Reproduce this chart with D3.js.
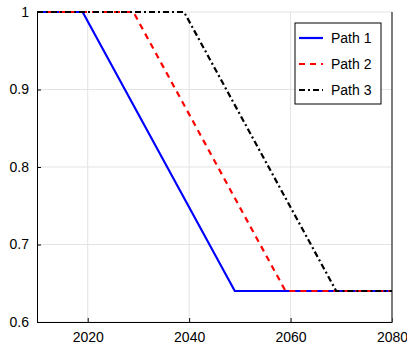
<!DOCTYPE html>
<style>
body { margin: 0; background: #fff; }
text { font-family: "Liberation Sans", Arial, sans-serif; }
</style>
<body>
<script src="https://cdn.jsdelivr.net/npm/d3@7"></script>
<script>

var years1 = [2010, 2019, 2049, 2080],
    vals1 = [1, 1, 0.64, 0.64];
var years2 = [2010, 2029, 2059, 2080],
    vals2 = [1, 1, 0.64, 0.64];
var years3 = [2010, 2039, 2069, 2080],
    vals3 = [1, 1, 0.64, 0.64];
var names = ["Path 1", "Path 2", "Path 3"];
var xTicks = [2020, 2040, 2060, 2080],
    yTicks = [0.6, 0.7, 0.8, 0.9, 1];

var width = 407,
    height = 350,
    margin = {top: 12, right: 15, bottom: 28, left: 37};

var svg = d3.select("body").append("svg")
    .attr("width", width)
    .attr("height", height);

var x = d3.scaleLinear().domain([2010, 2080]).range([margin.left, width - margin.right]);
var y = d3.scaleLinear().domain([0.6, 1]).range([height - margin.bottom, margin.top]);

// grid
svg.append("g").selectAll("line")
    .data(xTicks)
  .enter().append("line")
    .attr("x1", d => x(d)).attr("x2", d => x(d))
    .attr("y1", y(0.6)).attr("y2", y(1))
    .attr("stroke", "#e3e3e3");
svg.append("g").selectAll("line")
    .data(yTicks)
  .enter().append("line")
    .attr("x1", x(2010)).attr("x2", x(2080))
    .attr("y1", d => y(d)).attr("y2", d => y(d))
    .attr("stroke", "#e3e3e3");

// axes
svg.append("g")
    .attr("transform", "translate(0," + y(0.6) + ")")
    .call(d3.axisBottom(x).tickValues(xTicks).tickFormat(d3.format("d")).tickSizeInner(-4).tickSizeOuter(0).tickPadding(10))
    .call(g => g.selectAll("text").attr("font-size", 14).attr("fill", "#000").style("font-family", "Liberation Sans"))
    .call(g => g.selectAll("line, path").attr("stroke", "#000"));

svg.append("g")
    .attr("transform", "translate(" + x(2010) + ",0)")
    .call(d3.axisLeft(y).tickValues(yTicks).tickFormat(d => d === 1 ? "1" : d3.format(".1f")(d)).tickSizeInner(-4).tickSizeOuter(0).tickPadding(8))
    .call(g => g.selectAll("text").attr("font-size", 14).attr("fill", "#000").style("font-family", "Liberation Sans"))
    .call(g => g.selectAll("line, path").attr("stroke", "#000"));

// right edge of box
svg.append("line")
    .attr("x1", x(2080)).attr("x2", x(2080))
    .attr("y1", y(0.6)).attr("y2", y(1))
    .attr("stroke", "#555").attr("stroke-width", 1.5);

var series = [
  {name: names[0], xs: years1, ys: vals1, color: "#0000ff", dash: null},
  {name: names[1], xs: years2, ys: vals2, color: "#ff0000", dash: "6,5"},
  {name: names[2], xs: years3, ys: vals3, color: "#000000", dash: "6,3,2,3"}
];

var line = d3.line().x(d => x(d[0])).y(d => y(d[1]));

svg.append("g").selectAll("path")
    .data(series)
  .enter().append("path")
    .attr("d", s => line(d3.zip(s.xs, s.ys)))
    .attr("fill", "none")
    .attr("stroke", s => s.color)
    .attr("stroke-width", 2.2)
    .attr("stroke-dasharray", s => s.dash);

// legend
var legend = svg.append("g").attr("transform", "translate(295,23)");
legend.append("rect")
    .attr("width", 86).attr("height", 81)
    .attr("fill", "#fff").attr("stroke", "#000");

var item = legend.selectAll("g.item")
    .data(series)
  .enter().append("g")
    .attr("class", "item")
    .attr("transform", (d, i) => "translate(0," + (15 + i * 26) + ")");
item.append("line")
    .attr("x1", 4).attr("x2", 28)
    .attr("stroke", d => d.color)
    .attr("stroke-width", 2.2)
    .attr("stroke-dasharray", d => d.dash);
item.append("text")
    .attr("x", 36).attr("dy", "0.36em")
    .attr("font-size", 14)
    .text(d => d.name);

</script>
